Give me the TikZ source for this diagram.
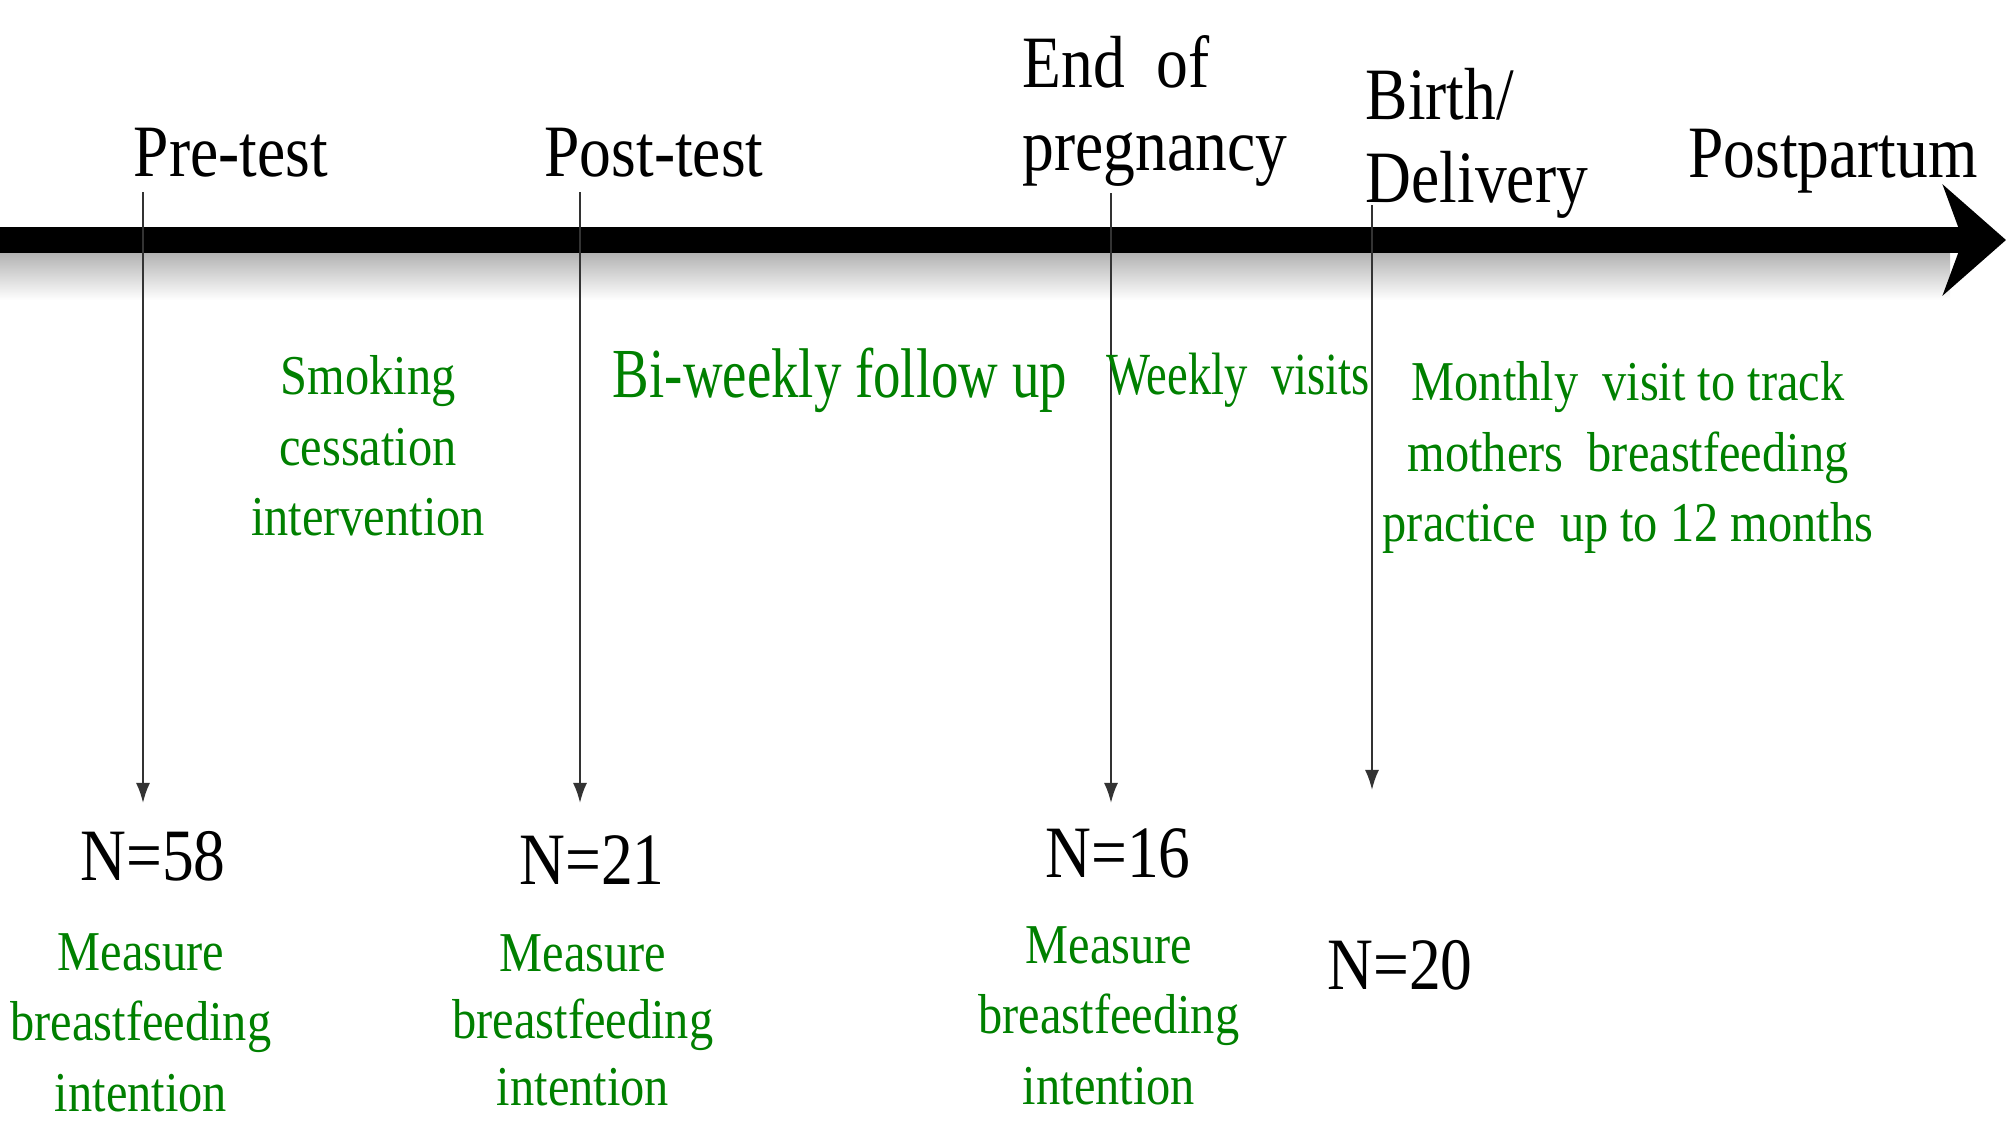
\documentclass[tikz,border=0pt]{standalone}
\usepackage{fontspec}
\setmainfont[FakeStretch=0.86]{Liberation Serif}
\newfontfamily\narrowfont[FakeStretch=0.78]{Liberation Serif}
\usetikzlibrary{arrows.meta,positioning}
\definecolor{leafgreen}{RGB}{0,128,0}

\begin{document}
\begin{tikzpicture}[x=0.01cm,y=-0.01cm]
\tikzstyle{stagelabel}=[inner sep=0pt, font=\fontsize{21}{23.5}\selectfont]
\tikzstyle{nlabel}=[inner sep=0pt, anchor=base, font=\fontsize{21}{24}\selectfont]
\tikzstyle{greennote}=[inner sep=0pt, text=leafgreen, align=center, font=\fontsize{16}{20}\selectfont]
\tikzstyle{timeline}=[line width=0.25cm, -{Stealth[length=0.63cm,width=1.1cm,inset=0.2cm]}]
\tikzstyle{tickarrow}=[line width=0.6pt, draw=black!80, -{Latex[length=0.2cm,width=0.14cm]}]
  \useasboundingbox (0,0) rectangle (2008,1127);
  % time axis
  \shade[top color=black!30, bottom color=white] (0,253) rectangle (1950,300);
  \coordinate (tStart) at (0,240);
  \coordinate (tEnd) at (2006,240);
  \draw[timeline] (tStart) -- (tEnd);

  % stages above the axis
  \node[stagelabel, anchor=base] (Pre) at (231,176) {Pre-test};
  \node[stagelabel, anchor=base] (Post) at (654,176) {Post-test};
  \node[stagelabel, anchor=north west, align=left] (EndPreg) at (1022,35) {End\ \ of\\pregnancy};
  \node[stagelabel, anchor=north west, align=left] (Birth) at (1365,68) {Birth/\\Delivery};
  \node[stagelabel, anchor=base] (Postpartum) at (1833,177) {Postpartum};

  % ticks
  \coordinate (preTop) at (143,192);
  \coordinate (preEnd) at (143,803);
  \coordinate (postTop) at (580,192);
  \coordinate (postEnd) at (580,803);
  \coordinate (endTop) at (1111,193);
  \coordinate (endEnd) at (1111,803);
  \coordinate (birthTop) at (1372,205);
  \coordinate (birthEnd) at (1372,790);
  \draw[tickarrow] (preTop) -- (preEnd);
  \draw[tickarrow] (postTop) -- (postEnd);
  \draw[tickarrow] (endTop) -- (endEnd);
  \draw[tickarrow] (birthTop) -- (birthEnd);

  % what happens in between
  \node[greennote, anchor=north] (Cessation) at (368,355) {Smoking\\cessation\\intervention};
  \node[greennote, anchor=base, font=\narrowfont\fontsize{20}{24}\selectfont] (Biweekly) at (840,397) {Bi-weekly follow up};
  \node[greennote, anchor=base, font=\narrowfont\fontsize{17}{20}\selectfont] (Weekly) at (1238,394) {Weekly\ \ visits};
  \node[greennote, anchor=north] (Monthly) at (1628,361) {Monthly\ \ visit to track\\mothers\ \ breastfeeding\\practice\ \ up to 12 months};

  % sample sizes
  \node[nlabel] (n58) at (153,880) {N=58};
  \node[nlabel] (n21) at (592,884) {N=21};
  \node[nlabel] (n16) at (1118,877) {N=16};
  \node[nlabel] (n20) at (1400,989) {N=20};
  \node[greennote, anchor=north] (m58) [below=0.53cm of n58.base, xshift=-0.12cm] {Measure\\breastfeeding\\intention};
  \node[greennote, anchor=north, font=\fontsize{16}{19}\selectfont] (m21) [below=0.5cm of n21.base, xshift=-0.09cm] {Measure\\breastfeeding\\intention};
  \node[greennote, anchor=north] (m16) [below=0.49cm of n16.base, xshift=-0.09cm] {Measure\\breastfeeding\\intention};
\end{tikzpicture}
\end{document}
